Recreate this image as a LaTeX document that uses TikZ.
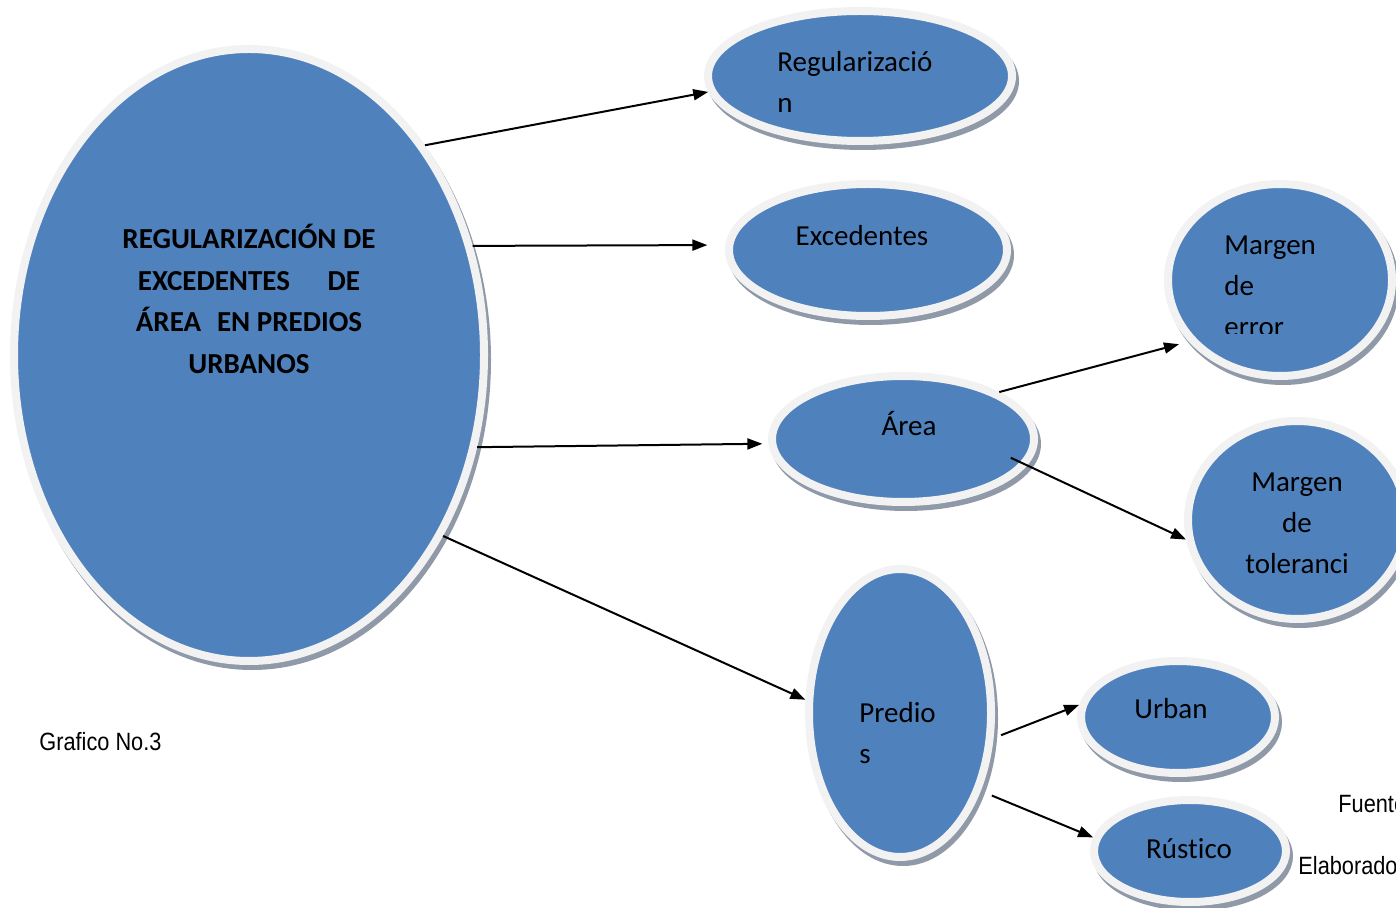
\documentclass[tikz,border=0pt]{standalone}
\usepackage{fontspec}
\setmainfont{Carlito}[Ligatures=CommonOff]
\newfontfamily\arialn[FakeStretch=0.87]{Liberation Sans}
\usetikzlibrary{arrows.meta,shapes.geometric}
\definecolor{ellblue}{HTML}{4F81BD}
\definecolor{ringgray}{HTML}{F2F2F2}
\definecolor{shadegray}{HTML}{8F99A8}

\begin{document}
\begin{tikzpicture}[x=0.5pt,y=-0.5pt,
   e/.style={ellipse,draw=ringgray,line width=4pt,fill=ellblue,inner sep=0pt,
             preaction={draw=shadegray,fill=shadegray,line width=4pt,
                        transform canvas={shift={(1.5pt,-2.5pt)}}}},
   t/.style={font=\fontsize{14.5}{20.5}\selectfont,inner sep=0pt},
   n/.style={font=\arialn\fontsize{12.5}{15}\selectfont,inner sep=0pt},
   a/.style={-{Triangle[length=7.5pt,width=5.5pt]},line width=1pt}]
  \useasboundingbox (0,0) rectangle (1396,908);
  % ellipses
  \node[e,minimum width=235pt,minimum height=306pt] (main) at (249,355) {};
  \node[e,minimum width=152pt,minimum height=65pt] (reg) at (860,76) {};
  \node[e,minimum width=139pt,minimum height=66pt] (exc) at (868,250) {};
  \node[e,minimum width=131pt,minimum height=63pt] (area) at (903,439) {};
  \node[e,minimum width=112pt,minimum height=96pt] (merr) at (1280,280) {};
  \node[e,minimum width=109pt,minimum height=99pt] (mtol) at (1297,520) {};
  \node[e,minimum width=91pt,minimum height=144pt] (pred) at (900,713) {};
  \node[e,minimum width=97pt,minimum height=56pt] (urb) at (1178,717) {};
  \node[e,minimum width=96pt,minimum height=51pt] (rus) at (1190,851) {};
  % texts
  \node[inner sep=0pt,align=center,font=\bfseries\fontsize{14.5}{20.75}\selectfont] (main-t) at (249,299)
    {REGULARIZACIÓN DE\\EXCEDENTES\hspace{1.3em}DE\\ÁREA\hspace{0.55em}EN PREDIOS\\URBANOS};
  \node[t,align=left,anchor=west] (reg-t) at (777,82) {Regularizació\\n};
  \node[t,anchor=base] (exc-t) at (862,246) {Excedentes};
  \node[t,anchor=base] (area-t) at (909,436) {Área};
  \begin{scope}
    \clip (1150,200) rectangle (1396,334);
    \node[t,align=left,anchor=west] (merr-t) at (1224,286) {Margen\\de\\error};
  \end{scope}
  \node[t,align=center] (mtol-t) at (1297,523) {Margen\\de\\toleranci};
  \node[t,align=left,anchor=west] (pred-t) at (859,733) {Predio\\s};
  \node[t,anchor=base] (urb-t) at (1171,718) {Urban};
  \node[t,anchor=base] (rus-t) at (1189,858) {Rústico};
  \node[n,anchor=base west] (graf) at (39,750) {Grafico No.3};
  \node[n,anchor=base west] (fuente) at (1338,812) {Fuente};
  \node[n,anchor=base west] (elab) at (1298,874) {Elaborado};
  % arrows
  \draw[a] (main.50) -- (reg.186);
  \draw[a,shorten >=9pt] (main.26) -- (exc.178);
  \draw[a,shorten >=3pt] (main.338) -- (area.182);
  \draw[a] (main.317) -- (pred.172);
  \draw[a,shorten >=5pt] (area.26) -- (merr.214);
  \draw[a,shorten <=-9pt] (area.348) -- (mtol.190);
  \draw[a,shorten <=4pt] (pred.345) -- (urb.173);
  \draw[a,shorten <=6pt] (pred.316) -- (rus.172);
\end{tikzpicture}
\end{document}
